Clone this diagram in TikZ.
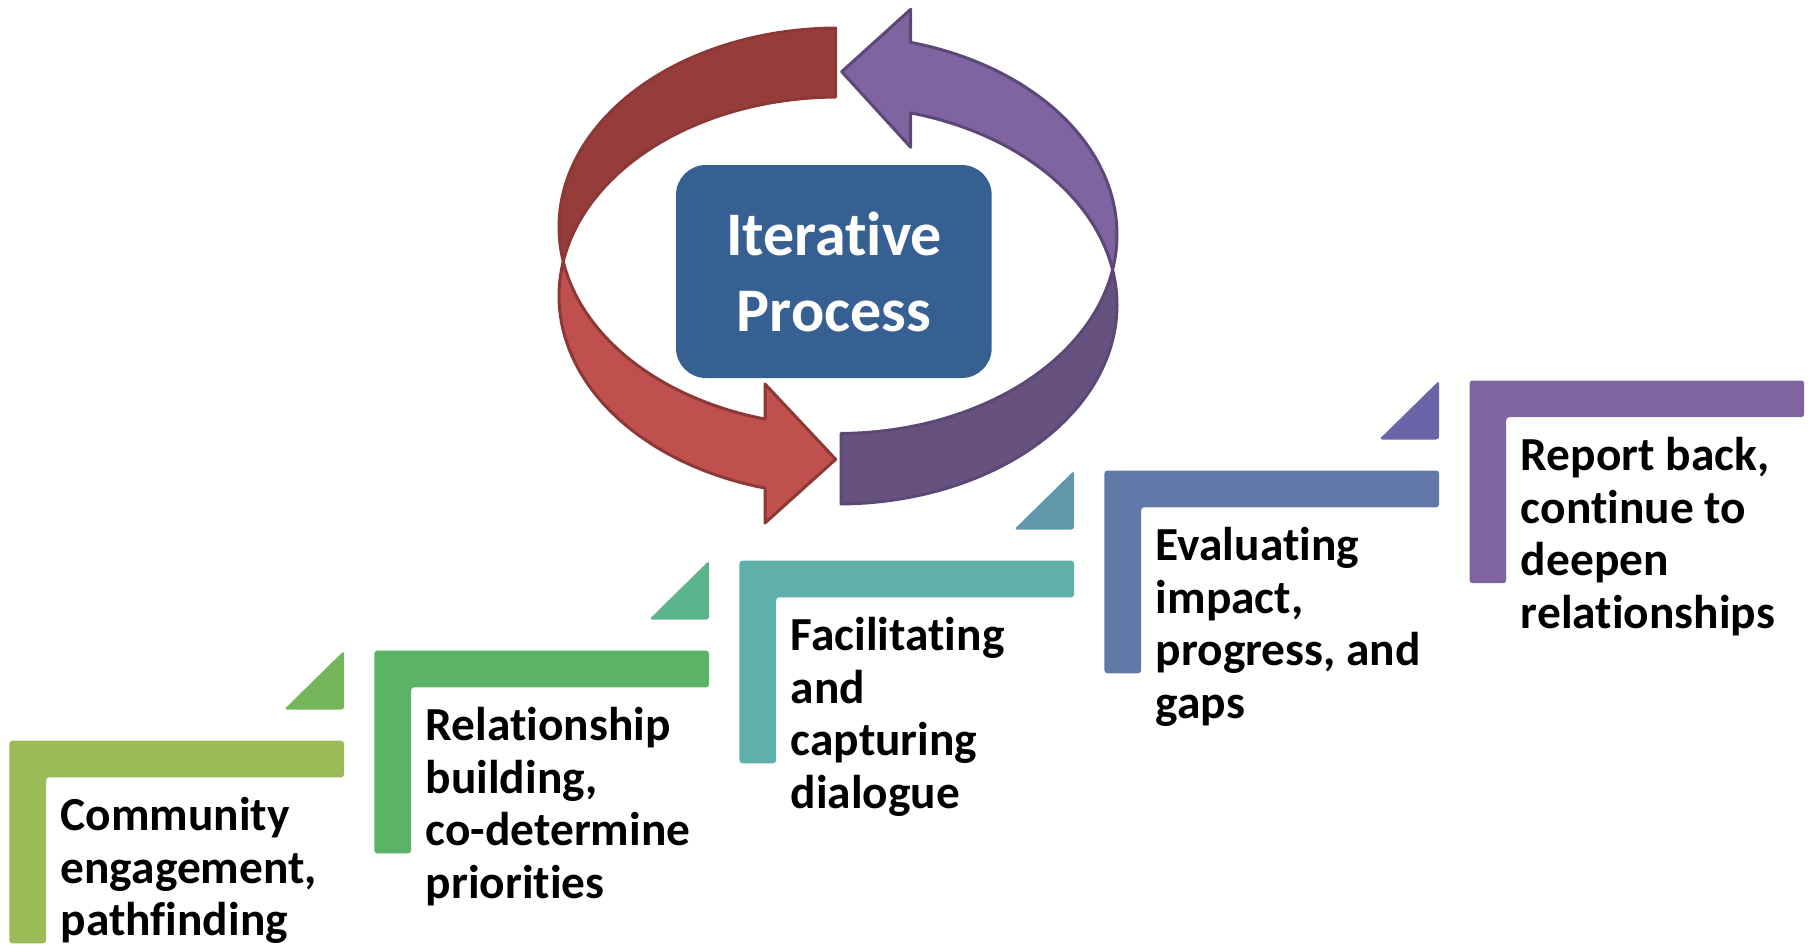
\documentclass[tikz,border=0pt]{standalone}
\usepackage{fontspec}
\setmainfont{Carlito}[Ligatures=NoCommon]

\definecolor{stepA}{HTML}{9BBB59}
\definecolor{stepB}{HTML}{5BB466}
\definecolor{stepC}{HTML}{5FB0A8}
\definecolor{stepD}{HTML}{6178A9}
\definecolor{stepE}{HTML}{8064A2}
\definecolor{triA}{HTML}{76B65B}
\definecolor{triB}{HTML}{5CB48A}
\definecolor{triC}{HTML}{5F97AB}
\definecolor{triD}{HTML}{6A64A8}
\definecolor{redDark}{HTML}{963D3B}
\definecolor{redLight}{HTML}{C0504D}
\definecolor{redLine}{HTML}{8C3836}
\definecolor{purpleLight}{HTML}{8064A2}
\definecolor{purpleDark}{HTML}{67527F}
\definecolor{purpleLine}{HTML}{5C4876}
\definecolor{boxBlue}{HTML}{376092}

\begin{document}
\begin{tikzpicture}[x=0.5pt, y=-0.5pt,
        stepbar/.style={rounded corners=1.5pt},
        steptext/.style={anchor=base west, align=left, inner sep=0pt,
            font=\fontsize{23.7pt}{26.25pt}\selectfont\bfseries},
        band/.style={line width=1.5pt, line join=round}]
                % Fix the page to the size of the picture
                \useasboundingbox (0,0) rectangle (1810,944);

                % Draw the red arrow, dark half at the top left
                \filldraw[band, fill=redDark, draw=redLine]
                    plot[domain=269.5:170.02, samples=60] ({838+279*cos(\x)}, {227+199*sin(\x)})
                    -- plot[domain=189.98:269.5, samples=60] ({838+279*cos(\x)}, {296+199*sin(\x)})
                    -- cycle;

                % Draw the red arrow, light half with its head
                \filldraw[band, fill=redLight, draw=redLine]
                    plot[domain=189.98:105.17, samples=60] ({838+279*cos(\x)}, {296+199*sin(\x)})
                    -- (765,523) -- (835.7,459.3) -- (765,384)
                    -- plot[domain=105.17:170.02, samples=60] ({838+279*cos(\x)}, {227+199*sin(\x)})
                    -- cycle;

                % Draw the purple arrow, dark half at the bottom right
                \filldraw[band, fill=purpleDark, draw=purpleLine]
                    plot[domain=89.38:-10.2, samples=60] ({838+279*cos(\x)}, {305+199*sin(\x)})
                    -- plot[domain=10.2:89.38, samples=60] ({838+279*cos(\x)}, {234.5+199*sin(\x)})
                    -- cycle;

                % Draw the purple arrow, light half with its head
                \filldraw[band, fill=purpleLight, draw=purpleLine]
                    plot[domain=10.2:-74.9, samples=60] ({838+279*cos(\x)}, {234.5+199*sin(\x)})
                    -- (910.7,9.3) -- (841.7,71.7) -- (910.7,147.3)
                    -- plot[domain=-74.9:-10.2, samples=60] ({838+279*cos(\x)}, {305+199*sin(\x)})
                    -- cycle;

                % Draw the centre box (text anchored on its last line)
                \fill[boxBlue, rounded corners=15pt] (676,165) rectangle (991.7,378);
                \node[anchor=base, align=center, inner sep=0pt, text=white,
                    font=\fontsize{31pt}{38.35pt}\selectfont\bfseries] (iter) at (834,331.7) {Iterative\\Process};

                % Draw step 1 and its triangle
                \fill[stepbar, stepA] (9.3,740.7) -- (344,740.7) -- (344,777.4) -- (46,777.4) -- (46,943.4) -- (9.3,943.4) -- cycle;
                \fill[stepbar, triA] (344,650.65) -- (344,709.65) -- (284,709.65) -- cycle;

                % Draw step 2 and its triangle
                \fill[stepbar, stepB] (374.35,650.65) -- (709.05,650.65) -- (709.05,687.35) -- (411.05,687.35) -- (411.05,853.35) -- (374.35,853.35) -- cycle;
                \fill[stepbar, triB] (709.05,560.6) -- (709.05,619.6) -- (649.05,619.6) -- cycle;

                % Draw step 3 and its triangle
                \fill[stepbar, stepC] (739.4,560.6) -- (1074.1,560.6) -- (1074.1,597.3) -- (776.1,597.3) -- (776.1,763.3) -- (739.4,763.3) -- cycle;
                \fill[stepbar, triC] (1074.1,470.55) -- (1074.1,529.55) -- (1014.1,529.55) -- cycle;

                % Draw step 4 and its triangle
                \fill[stepbar, stepD] (1104.45,470.55) -- (1439.15,470.55) -- (1439.15,507.25) -- (1141.15,507.25) -- (1141.15,673.25) -- (1104.45,673.25) -- cycle;
                \fill[stepbar, triD] (1439.15,380.5) -- (1439.15,439.5) -- (1379.15,439.5) -- cycle;

                % Draw step 5
                \fill[stepbar, stepE] (1469.5,380.5) -- (1804.2,380.5) -- (1804.2,417.2) -- (1506.2,417.2) -- (1506.2,583.2) -- (1469.5,583.2) -- cycle;

                % Label the steps (anchored on the last line)
                \node[steptext] (engage) at (60.3,935.7) {Community\\engagement,\\pathfinding};
                \node[steptext] (relate) at (425.35,898.15) {Relationship\\building,\\co-determine\\priorities};
                \node[steptext] (dialog) at (790.4,808.1) {Facilitating\\and\\capturing\\dialogue};
                \node[steptext] (evaluate) at (1155.45,718.05) {Evaluating\\impact,\\progress, and\\gaps};
                \node[steptext] (report) at (1520.5,628) {Report back,\\continue to\\deepen\\relationships};

            \end{tikzpicture}
\end{document}
